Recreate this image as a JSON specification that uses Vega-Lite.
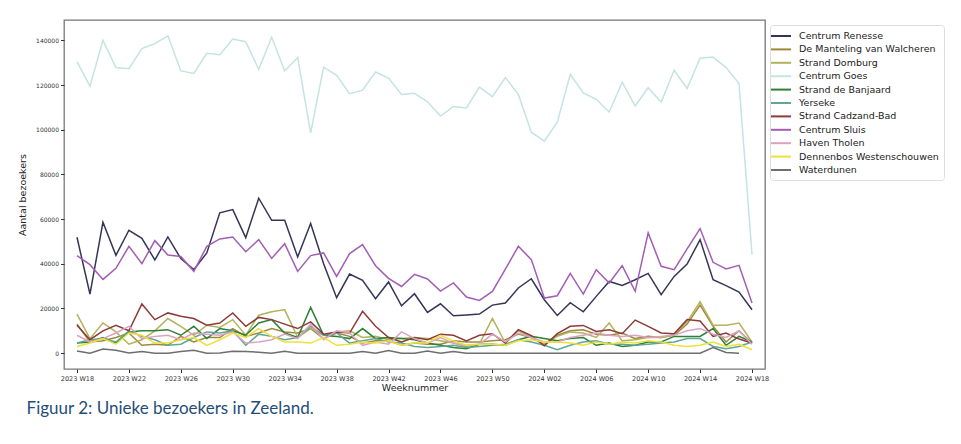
{
"$schema":"https://vega.github.io/schema/vega-lite/v6.json",
"width":701,"height":349,
"autosize":{"type":"none"},
"padding":{"left":64,"top":20,"right":196,"bottom":75},
"config":{"view":{"stroke":"#777","strokeWidth":1.3},"font":"DejaVu Sans"},
"title":{"text":"Figuur 2: Unieke bezoekers in Zeeland.","orient":"bottom","anchor":"start","font":"Lato","fontSize":17,"fontWeight":"normal","color":"#1f4e79","offset":9,"dx":9},
"data":{"values":[
{"w":"2023 W18","loc":"Centrum Renesse","n":51850},{"w":"2023 W19","loc":"Centrum Renesse","n":26450},{"w":"2023 W20","loc":"Centrum Renesse","n":58550},{"w":"2023 W21","loc":"Centrum Renesse","n":43750},{"w":"2023 W22","loc":"Centrum Renesse","n":55000},{"w":"2023 W23","loc":"Centrum Renesse","n":51400},{"w":"2023 W24","loc":"Centrum Renesse","n":41700},{"w":"2023 W25","loc":"Centrum Renesse","n":52000},{"w":"2023 W26","loc":"Centrum Renesse","n":42300},{"w":"2023 W27","loc":"Centrum Renesse","n":37350},{"w":"2023 W28","loc":"Centrum Renesse","n":44850},{"w":"2023 W29","loc":"Centrum Renesse","n":62800},{"w":"2023 W30","loc":"Centrum Renesse","n":64250},{"w":"2023 W31","loc":"Centrum Renesse","n":51700},{"w":"2023 W32","loc":"Centrum Renesse","n":69350},{"w":"2023 W33","loc":"Centrum Renesse","n":59450},{"w":"2023 W34","loc":"Centrum Renesse","n":59450},{"w":"2023 W35","loc":"Centrum Renesse","n":43050},{"w":"2023 W36","loc":"Centrum Renesse","n":58000},{"w":"2023 W37","loc":"Centrum Renesse","n":40000},{"w":"2023 W38","loc":"Centrum Renesse","n":24800},{"w":"2023 W39","loc":"Centrum Renesse","n":35400},{"w":"2023 W40","loc":"Centrum Renesse","n":32550},{"w":"2023 W41","loc":"Centrum Renesse","n":24350},{"w":"2023 W42","loc":"Centrum Renesse","n":31850},{"w":"2023 W43","loc":"Centrum Renesse","n":21200},{"w":"2023 W44","loc":"Centrum Renesse","n":26600},{"w":"2023 W45","loc":"Centrum Renesse","n":18200},{"w":"2023 W46","loc":"Centrum Renesse","n":22100},{"w":"2023 W47","loc":"Centrum Renesse","n":16700},{"w":"2023 W48","loc":"Centrum Renesse","n":17050},{"w":"2023 W49","loc":"Centrum Renesse","n":17500},{"w":"2023 W50","loc":"Centrum Renesse","n":21500},{"w":"2023 W51","loc":"Centrum Renesse","n":22400},{"w":"2023 W52","loc":"Centrum Renesse","n":29150},{"w":"2024 W01","loc":"Centrum Renesse","n":33300},{"w":"2024 W02","loc":"Centrum Renesse","n":23900},{"w":"2024 W03","loc":"Centrum Renesse","n":16850},{"w":"2024 W04","loc":"Centrum Renesse","n":22550},{"w":"2024 W05","loc":"Centrum Renesse","n":18500},{"w":"2024 W06","loc":"Centrum Renesse","n":25400},{"w":"2024 W07","loc":"Centrum Renesse","n":32100},{"w":"2024 W08","loc":"Centrum Renesse","n":30300},{"w":"2024 W09","loc":"Centrum Renesse","n":32850},{"w":"2024 W10","loc":"Centrum Renesse","n":35700},{"w":"2024 W11","loc":"Centrum Renesse","n":26150},{"w":"2024 W12","loc":"Centrum Renesse","n":34350},{"w":"2024 W13","loc":"Centrum Renesse","n":39900},{"w":"2024 W14","loc":"Centrum Renesse","n":50800},{"w":"2024 W15","loc":"Centrum Renesse","n":32850},{"w":"2024 W16","loc":"Centrum Renesse","n":30200},{"w":"2024 W17","loc":"Centrum Renesse","n":27350},{"w":"2024 W18","loc":"Centrum Renesse","n":19400},
{"w":"2023 W18","loc":"De Manteling van Walcheren","n":13000},{"w":"2023 W19","loc":"De Manteling van Walcheren","n":5000},{"w":"2023 W20","loc":"De Manteling van Walcheren","n":5500},{"w":"2023 W21","loc":"De Manteling van Walcheren","n":7000},{"w":"2023 W22","loc":"De Manteling van Walcheren","n":9000},{"w":"2023 W23","loc":"De Manteling van Walcheren","n":3500},{"w":"2023 W24","loc":"De Manteling van Walcheren","n":4000},{"w":"2023 W25","loc":"De Manteling van Walcheren","n":3500},{"w":"2023 W26","loc":"De Manteling van Walcheren","n":7500},{"w":"2023 W27","loc":"De Manteling van Walcheren","n":5000},{"w":"2023 W28","loc":"De Manteling van Walcheren","n":7000},{"w":"2023 W29","loc":"De Manteling van Walcheren","n":7000},{"w":"2023 W30","loc":"De Manteling van Walcheren","n":11000},{"w":"2023 W31","loc":"De Manteling van Walcheren","n":7500},{"w":"2023 W32","loc":"De Manteling van Walcheren","n":9000},{"w":"2023 W33","loc":"De Manteling van Walcheren","n":11000},{"w":"2023 W34","loc":"De Manteling van Walcheren","n":9500},{"w":"2023 W35","loc":"De Manteling van Walcheren","n":9000},{"w":"2023 W36","loc":"De Manteling van Walcheren","n":11000},{"w":"2023 W37","loc":"De Manteling van Walcheren","n":6500},{"w":"2023 W38","loc":"De Manteling van Walcheren","n":9000},{"w":"2023 W39","loc":"De Manteling van Walcheren","n":7500},{"w":"2023 W40","loc":"De Manteling van Walcheren","n":4500},{"w":"2023 W41","loc":"De Manteling van Walcheren","n":5500},{"w":"2023 W42","loc":"De Manteling van Walcheren","n":5500},{"w":"2023 W43","loc":"De Manteling van Walcheren","n":3500},{"w":"2023 W44","loc":"De Manteling van Walcheren","n":4500},{"w":"2023 W45","loc":"De Manteling van Walcheren","n":4000},{"w":"2023 W46","loc":"De Manteling van Walcheren","n":4000},{"w":"2023 W47","loc":"De Manteling van Walcheren","n":5500},{"w":"2023 W48","loc":"De Manteling van Walcheren","n":5000},{"w":"2023 W49","loc":"De Manteling van Walcheren","n":5000},{"w":"2023 W50","loc":"De Manteling van Walcheren","n":5500},{"w":"2023 W51","loc":"De Manteling van Walcheren","n":6000},{"w":"2023 W52","loc":"De Manteling van Walcheren","n":8500},{"w":"2024 W01","loc":"De Manteling van Walcheren","n":7000},{"w":"2024 W02","loc":"De Manteling van Walcheren","n":4000},{"w":"2024 W03","loc":"De Manteling van Walcheren","n":8000},{"w":"2024 W04","loc":"De Manteling van Walcheren","n":10000},{"w":"2024 W05","loc":"De Manteling van Walcheren","n":10500},{"w":"2024 W06","loc":"De Manteling van Walcheren","n":8500},{"w":"2024 W07","loc":"De Manteling van Walcheren","n":8000},{"w":"2024 W08","loc":"De Manteling van Walcheren","n":9000},{"w":"2024 W09","loc":"De Manteling van Walcheren","n":6500},{"w":"2024 W10","loc":"De Manteling van Walcheren","n":7500},{"w":"2024 W11","loc":"De Manteling van Walcheren","n":7000},{"w":"2024 W12","loc":"De Manteling van Walcheren","n":8000},{"w":"2024 W13","loc":"De Manteling van Walcheren","n":13000},{"w":"2024 W14","loc":"De Manteling van Walcheren","n":21500},{"w":"2024 W15","loc":"De Manteling van Walcheren","n":12000},{"w":"2024 W16","loc":"De Manteling van Walcheren","n":5000},{"w":"2024 W17","loc":"De Manteling van Walcheren","n":10000},{"w":"2024 W18","loc":"De Manteling van Walcheren","n":4500},
{"w":"2023 W18","loc":"Strand Domburg","n":17500},{"w":"2023 W19","loc":"Strand Domburg","n":6500},{"w":"2023 W20","loc":"Strand Domburg","n":13500},{"w":"2023 W21","loc":"Strand Domburg","n":9500},{"w":"2023 W22","loc":"Strand Domburg","n":4000},{"w":"2023 W23","loc":"Strand Domburg","n":6000},{"w":"2023 W24","loc":"Strand Domburg","n":10000},{"w":"2023 W25","loc":"Strand Domburg","n":15500},{"w":"2023 W26","loc":"Strand Domburg","n":12000},{"w":"2023 W27","loc":"Strand Domburg","n":8000},{"w":"2023 W28","loc":"Strand Domburg","n":12500},{"w":"2023 W29","loc":"Strand Domburg","n":11500},{"w":"2023 W30","loc":"Strand Domburg","n":15000},{"w":"2023 W31","loc":"Strand Domburg","n":8000},{"w":"2023 W32","loc":"Strand Domburg","n":17000},{"w":"2023 W33","loc":"Strand Domburg","n":18500},{"w":"2023 W34","loc":"Strand Domburg","n":19500},{"w":"2023 W35","loc":"Strand Domburg","n":7000},{"w":"2023 W36","loc":"Strand Domburg","n":11000},{"w":"2023 W37","loc":"Strand Domburg","n":8000},{"w":"2023 W38","loc":"Strand Domburg","n":9500},{"w":"2023 W39","loc":"Strand Domburg","n":10000},{"w":"2023 W40","loc":"Strand Domburg","n":7000},{"w":"2023 W41","loc":"Strand Domburg","n":7500},{"w":"2023 W42","loc":"Strand Domburg","n":6000},{"w":"2023 W43","loc":"Strand Domburg","n":6500},{"w":"2023 W44","loc":"Strand Domburg","n":7000},{"w":"2023 W45","loc":"Strand Domburg","n":6500},{"w":"2023 W46","loc":"Strand Domburg","n":5500},{"w":"2023 W47","loc":"Strand Domburg","n":4500},{"w":"2023 W48","loc":"Strand Domburg","n":3000},{"w":"2023 W49","loc":"Strand Domburg","n":4000},{"w":"2023 W50","loc":"Strand Domburg","n":15500},{"w":"2023 W51","loc":"Strand Domburg","n":4500},{"w":"2023 W52","loc":"Strand Domburg","n":10000},{"w":"2024 W01","loc":"Strand Domburg","n":7000},{"w":"2024 W02","loc":"Strand Domburg","n":4000},{"w":"2024 W03","loc":"Strand Domburg","n":7500},{"w":"2024 W04","loc":"Strand Domburg","n":9500},{"w":"2024 W05","loc":"Strand Domburg","n":9000},{"w":"2024 W06","loc":"Strand Domburg","n":7000},{"w":"2024 W07","loc":"Strand Domburg","n":13500},{"w":"2024 W08","loc":"Strand Domburg","n":5500},{"w":"2024 W09","loc":"Strand Domburg","n":6000},{"w":"2024 W10","loc":"Strand Domburg","n":7000},{"w":"2024 W11","loc":"Strand Domburg","n":7000},{"w":"2024 W12","loc":"Strand Domburg","n":8500},{"w":"2024 W13","loc":"Strand Domburg","n":14000},{"w":"2024 W14","loc":"Strand Domburg","n":23000},{"w":"2024 W15","loc":"Strand Domburg","n":12500},{"w":"2024 W16","loc":"Strand Domburg","n":12500},{"w":"2024 W17","loc":"Strand Domburg","n":13500},{"w":"2024 W18","loc":"Strand Domburg","n":5000},
{"w":"2023 W18","loc":"Centrum Goes","n":130500},{"w":"2023 W19","loc":"Centrum Goes","n":119500},{"w":"2023 W20","loc":"Centrum Goes","n":140000},{"w":"2023 W21","loc":"Centrum Goes","n":127800},{"w":"2023 W22","loc":"Centrum Goes","n":127300},{"w":"2023 W23","loc":"Centrum Goes","n":136300},{"w":"2023 W24","loc":"Centrum Goes","n":138500},{"w":"2023 W25","loc":"Centrum Goes","n":142000},{"w":"2023 W26","loc":"Centrum Goes","n":126300},{"w":"2023 W27","loc":"Centrum Goes","n":125200},{"w":"2023 W28","loc":"Centrum Goes","n":134200},{"w":"2023 W29","loc":"Centrum Goes","n":133600},{"w":"2023 W30","loc":"Centrum Goes","n":140600},{"w":"2023 W31","loc":"Centrum Goes","n":139400},{"w":"2023 W32","loc":"Centrum Goes","n":127000},{"w":"2023 W33","loc":"Centrum Goes","n":141400},{"w":"2023 W34","loc":"Centrum Goes","n":126300},{"w":"2023 W35","loc":"Centrum Goes","n":132300},{"w":"2023 W36","loc":"Centrum Goes","n":98600},{"w":"2023 W37","loc":"Centrum Goes","n":128000},{"w":"2023 W38","loc":"Centrum Goes","n":124300},{"w":"2023 W39","loc":"Centrum Goes","n":116100},{"w":"2023 W40","loc":"Centrum Goes","n":117700},{"w":"2023 W41","loc":"Centrum Goes","n":125800},{"w":"2023 W42","loc":"Centrum Goes","n":123100},{"w":"2023 W43","loc":"Centrum Goes","n":115800},{"w":"2023 W44","loc":"Centrum Goes","n":116300},{"w":"2023 W45","loc":"Centrum Goes","n":112500},{"w":"2023 W46","loc":"Centrum Goes","n":106100},{"w":"2023 W47","loc":"Centrum Goes","n":110400},{"w":"2023 W48","loc":"Centrum Goes","n":109700},{"w":"2023 W49","loc":"Centrum Goes","n":119100},{"w":"2023 W50","loc":"Centrum Goes","n":114800},{"w":"2023 W51","loc":"Centrum Goes","n":123300},{"w":"2023 W52","loc":"Centrum Goes","n":115800},{"w":"2024 W01","loc":"Centrum Goes","n":98900},{"w":"2024 W02","loc":"Centrum Goes","n":94900},{"w":"2024 W03","loc":"Centrum Goes","n":103400},{"w":"2024 W04","loc":"Centrum Goes","n":124800},{"w":"2024 W05","loc":"Centrum Goes","n":116500},{"w":"2024 W06","loc":"Centrum Goes","n":113600},{"w":"2024 W07","loc":"Centrum Goes","n":107900},{"w":"2024 W08","loc":"Centrum Goes","n":121300},{"w":"2024 W09","loc":"Centrum Goes","n":110600},{"w":"2024 W10","loc":"Centrum Goes","n":118800},{"w":"2024 W11","loc":"Centrum Goes","n":112400},{"w":"2024 W12","loc":"Centrum Goes","n":126600},{"w":"2024 W13","loc":"Centrum Goes","n":118500},{"w":"2024 W14","loc":"Centrum Goes","n":132000},{"w":"2024 W15","loc":"Centrum Goes","n":132500},{"w":"2024 W16","loc":"Centrum Goes","n":127800},{"w":"2024 W17","loc":"Centrum Goes","n":120700},{"w":"2024 W18","loc":"Centrum Goes","n":44100},
{"w":"2023 W18","loc":"Strand de Banjaard","n":4500},{"w":"2023 W19","loc":"Strand de Banjaard","n":5000},{"w":"2023 W20","loc":"Strand de Banjaard","n":7000},{"w":"2023 W21","loc":"Strand de Banjaard","n":4500},{"w":"2023 W22","loc":"Strand de Banjaard","n":9500},{"w":"2023 W23","loc":"Strand de Banjaard","n":10000},{"w":"2023 W24","loc":"Strand de Banjaard","n":10000},{"w":"2023 W25","loc":"Strand de Banjaard","n":10500},{"w":"2023 W26","loc":"Strand de Banjaard","n":8000},{"w":"2023 W27","loc":"Strand de Banjaard","n":12000},{"w":"2023 W28","loc":"Strand de Banjaard","n":6500},{"w":"2023 W29","loc":"Strand de Banjaard","n":11000},{"w":"2023 W30","loc":"Strand de Banjaard","n":10000},{"w":"2023 W31","loc":"Strand de Banjaard","n":8000},{"w":"2023 W32","loc":"Strand de Banjaard","n":13500},{"w":"2023 W33","loc":"Strand de Banjaard","n":15000},{"w":"2023 W34","loc":"Strand de Banjaard","n":9000},{"w":"2023 W35","loc":"Strand de Banjaard","n":7000},{"w":"2023 W36","loc":"Strand de Banjaard","n":20500},{"w":"2023 W37","loc":"Strand de Banjaard","n":8000},{"w":"2023 W38","loc":"Strand de Banjaard","n":7500},{"w":"2023 W39","loc":"Strand de Banjaard","n":6500},{"w":"2023 W40","loc":"Strand de Banjaard","n":11000},{"w":"2023 W41","loc":"Strand de Banjaard","n":6500},{"w":"2023 W42","loc":"Strand de Banjaard","n":7000},{"w":"2023 W43","loc":"Strand de Banjaard","n":6500},{"w":"2023 W44","loc":"Strand de Banjaard","n":6000},{"w":"2023 W45","loc":"Strand de Banjaard","n":4500},{"w":"2023 W46","loc":"Strand de Banjaard","n":3500},{"w":"2023 W47","loc":"Strand de Banjaard","n":2500},{"w":"2023 W48","loc":"Strand de Banjaard","n":2000},{"w":"2023 W49","loc":"Strand de Banjaard","n":4000},{"w":"2023 W50","loc":"Strand de Banjaard","n":4000},{"w":"2023 W51","loc":"Strand de Banjaard","n":3500},{"w":"2023 W52","loc":"Strand de Banjaard","n":6000},{"w":"2024 W01","loc":"Strand de Banjaard","n":7500},{"w":"2024 W02","loc":"Strand de Banjaard","n":6500},{"w":"2024 W03","loc":"Strand de Banjaard","n":5500},{"w":"2024 W04","loc":"Strand de Banjaard","n":6500},{"w":"2024 W05","loc":"Strand de Banjaard","n":7000},{"w":"2024 W06","loc":"Strand de Banjaard","n":3500},{"w":"2024 W07","loc":"Strand de Banjaard","n":4500},{"w":"2024 W08","loc":"Strand de Banjaard","n":3000},{"w":"2024 W09","loc":"Strand de Banjaard","n":3500},{"w":"2024 W10","loc":"Strand de Banjaard","n":5000},{"w":"2024 W11","loc":"Strand de Banjaard","n":5000},{"w":"2024 W12","loc":"Strand de Banjaard","n":7500},{"w":"2024 W13","loc":"Strand de Banjaard","n":7500},{"w":"2024 W14","loc":"Strand de Banjaard","n":7500},{"w":"2024 W15","loc":"Strand de Banjaard","n":11000},{"w":"2024 W16","loc":"Strand de Banjaard","n":3500},{"w":"2024 W17","loc":"Strand de Banjaard","n":7500},{"w":"2024 W18","loc":"Strand de Banjaard","n":5000},
{"w":"2023 W18","loc":"Yerseke","n":4500},{"w":"2023 W19","loc":"Yerseke","n":6000},{"w":"2023 W20","loc":"Yerseke","n":6500},{"w":"2023 W21","loc":"Yerseke","n":5000},{"w":"2023 W22","loc":"Yerseke","n":10000},{"w":"2023 W23","loc":"Yerseke","n":7500},{"w":"2023 W24","loc":"Yerseke","n":6000},{"w":"2023 W25","loc":"Yerseke","n":3500},{"w":"2023 W26","loc":"Yerseke","n":4000},{"w":"2023 W27","loc":"Yerseke","n":7000},{"w":"2023 W28","loc":"Yerseke","n":9500},{"w":"2023 W29","loc":"Yerseke","n":9000},{"w":"2023 W30","loc":"Yerseke","n":10000},{"w":"2023 W31","loc":"Yerseke","n":3500},{"w":"2023 W32","loc":"Yerseke","n":8500},{"w":"2023 W33","loc":"Yerseke","n":7500},{"w":"2023 W34","loc":"Yerseke","n":6000},{"w":"2023 W35","loc":"Yerseke","n":7000},{"w":"2023 W36","loc":"Yerseke","n":12000},{"w":"2023 W37","loc":"Yerseke","n":8000},{"w":"2023 W38","loc":"Yerseke","n":9000},{"w":"2023 W39","loc":"Yerseke","n":4500},{"w":"2023 W40","loc":"Yerseke","n":5500},{"w":"2023 W41","loc":"Yerseke","n":6500},{"w":"2023 W42","loc":"Yerseke","n":5000},{"w":"2023 W43","loc":"Yerseke","n":4500},{"w":"2023 W44","loc":"Yerseke","n":3000},{"w":"2023 W45","loc":"Yerseke","n":2500},{"w":"2023 W46","loc":"Yerseke","n":3000},{"w":"2023 W47","loc":"Yerseke","n":3500},{"w":"2023 W48","loc":"Yerseke","n":2500},{"w":"2023 W49","loc":"Yerseke","n":3000},{"w":"2023 W50","loc":"Yerseke","n":3500},{"w":"2023 W51","loc":"Yerseke","n":4000},{"w":"2023 W52","loc":"Yerseke","n":6000},{"w":"2024 W01","loc":"Yerseke","n":5000},{"w":"2024 W02","loc":"Yerseke","n":3500},{"w":"2024 W03","loc":"Yerseke","n":1500},{"w":"2024 W04","loc":"Yerseke","n":3500},{"w":"2024 W05","loc":"Yerseke","n":5000},{"w":"2024 W06","loc":"Yerseke","n":5500},{"w":"2024 W07","loc":"Yerseke","n":4000},{"w":"2024 W08","loc":"Yerseke","n":4000},{"w":"2024 W09","loc":"Yerseke","n":3500},{"w":"2024 W10","loc":"Yerseke","n":4000},{"w":"2024 W11","loc":"Yerseke","n":4500},{"w":"2024 W12","loc":"Yerseke","n":5000},{"w":"2024 W13","loc":"Yerseke","n":6500},{"w":"2024 W14","loc":"Yerseke","n":6500},{"w":"2024 W15","loc":"Yerseke","n":3000},{"w":"2024 W16","loc":"Yerseke","n":2000},{"w":"2024 W17","loc":"Yerseke","n":3000},{"w":"2024 W18","loc":"Yerseke","n":5000},
{"w":"2023 W18","loc":"Strand Cadzand-Bad","n":12500},{"w":"2023 W19","loc":"Strand Cadzand-Bad","n":6000},{"w":"2023 W20","loc":"Strand Cadzand-Bad","n":10000},{"w":"2023 W21","loc":"Strand Cadzand-Bad","n":12500},{"w":"2023 W22","loc":"Strand Cadzand-Bad","n":10000},{"w":"2023 W23","loc":"Strand Cadzand-Bad","n":22000},{"w":"2023 W24","loc":"Strand Cadzand-Bad","n":15000},{"w":"2023 W25","loc":"Strand Cadzand-Bad","n":18000},{"w":"2023 W26","loc":"Strand Cadzand-Bad","n":16500},{"w":"2023 W27","loc":"Strand Cadzand-Bad","n":15500},{"w":"2023 W28","loc":"Strand Cadzand-Bad","n":12500},{"w":"2023 W29","loc":"Strand Cadzand-Bad","n":13500},{"w":"2023 W30","loc":"Strand Cadzand-Bad","n":18000},{"w":"2023 W31","loc":"Strand Cadzand-Bad","n":12000},{"w":"2023 W32","loc":"Strand Cadzand-Bad","n":16000},{"w":"2023 W33","loc":"Strand Cadzand-Bad","n":15000},{"w":"2023 W34","loc":"Strand Cadzand-Bad","n":13000},{"w":"2023 W35","loc":"Strand Cadzand-Bad","n":11000},{"w":"2023 W36","loc":"Strand Cadzand-Bad","n":14000},{"w":"2023 W37","loc":"Strand Cadzand-Bad","n":8500},{"w":"2023 W38","loc":"Strand Cadzand-Bad","n":9500},{"w":"2023 W39","loc":"Strand Cadzand-Bad","n":9000},{"w":"2023 W40","loc":"Strand Cadzand-Bad","n":18700},{"w":"2023 W41","loc":"Strand Cadzand-Bad","n":12000},{"w":"2023 W42","loc":"Strand Cadzand-Bad","n":7000},{"w":"2023 W43","loc":"Strand Cadzand-Bad","n":5000},{"w":"2023 W44","loc":"Strand Cadzand-Bad","n":7000},{"w":"2023 W45","loc":"Strand Cadzand-Bad","n":6000},{"w":"2023 W46","loc":"Strand Cadzand-Bad","n":8500},{"w":"2023 W47","loc":"Strand Cadzand-Bad","n":8000},{"w":"2023 W48","loc":"Strand Cadzand-Bad","n":5500},{"w":"2023 W49","loc":"Strand Cadzand-Bad","n":8000},{"w":"2023 W50","loc":"Strand Cadzand-Bad","n":8700},{"w":"2023 W51","loc":"Strand Cadzand-Bad","n":4500},{"w":"2023 W52","loc":"Strand Cadzand-Bad","n":10500},{"w":"2024 W01","loc":"Strand Cadzand-Bad","n":7800},{"w":"2024 W02","loc":"Strand Cadzand-Bad","n":3300},{"w":"2024 W03","loc":"Strand Cadzand-Bad","n":8700},{"w":"2024 W04","loc":"Strand Cadzand-Bad","n":12000},{"w":"2024 W05","loc":"Strand Cadzand-Bad","n":12400},{"w":"2024 W06","loc":"Strand Cadzand-Bad","n":9700},{"w":"2024 W07","loc":"Strand Cadzand-Bad","n":10500},{"w":"2024 W08","loc":"Strand Cadzand-Bad","n":8700},{"w":"2024 W09","loc":"Strand Cadzand-Bad","n":14800},{"w":"2024 W10","loc":"Strand Cadzand-Bad","n":12000},{"w":"2024 W11","loc":"Strand Cadzand-Bad","n":9000},{"w":"2024 W12","loc":"Strand Cadzand-Bad","n":8700},{"w":"2024 W13","loc":"Strand Cadzand-Bad","n":15000},{"w":"2024 W14","loc":"Strand Cadzand-Bad","n":14400},{"w":"2024 W15","loc":"Strand Cadzand-Bad","n":7500},{"w":"2024 W16","loc":"Strand Cadzand-Bad","n":9000},{"w":"2024 W17","loc":"Strand Cadzand-Bad","n":6300},{"w":"2024 W18","loc":"Strand Cadzand-Bad","n":4500},
{"w":"2023 W18","loc":"Centrum Sluis","n":43650},{"w":"2023 W19","loc":"Centrum Sluis","n":39600},{"w":"2023 W20","loc":"Centrum Sluis","n":33000},{"w":"2023 W21","loc":"Centrum Sluis","n":37950},{"w":"2023 W22","loc":"Centrum Sluis","n":47800},{"w":"2023 W23","loc":"Centrum Sluis","n":40050},{"w":"2023 W24","loc":"Centrum Sluis","n":50350},{"w":"2023 W25","loc":"Centrum Sluis","n":43950},{"w":"2023 W26","loc":"Centrum Sluis","n":43300},{"w":"2023 W27","loc":"Centrum Sluis","n":36600},{"w":"2023 W28","loc":"Centrum Sluis","n":47800},{"w":"2023 W29","loc":"Centrum Sluis","n":51100},{"w":"2023 W30","loc":"Centrum Sluis","n":52000},{"w":"2023 W31","loc":"Centrum Sluis","n":45400},{"w":"2023 W32","loc":"Centrum Sluis","n":50800},{"w":"2023 W33","loc":"Centrum Sluis","n":42400},{"w":"2023 W34","loc":"Centrum Sluis","n":49000},{"w":"2023 W35","loc":"Centrum Sluis","n":36600},{"w":"2023 W36","loc":"Centrum Sluis","n":43650},{"w":"2023 W37","loc":"Centrum Sluis","n":44850},{"w":"2023 W38","loc":"Centrum Sluis","n":34350},{"w":"2023 W39","loc":"Centrum Sluis","n":44550},{"w":"2023 W40","loc":"Centrum Sluis","n":48550},{"w":"2023 W41","loc":"Centrum Sluis","n":39150},{"w":"2023 W42","loc":"Centrum Sluis","n":33450},{"w":"2023 W43","loc":"Centrum Sluis","n":29850},{"w":"2023 W44","loc":"Centrum Sluis","n":35250},{"w":"2023 W45","loc":"Centrum Sluis","n":33200},{"w":"2023 W46","loc":"Centrum Sluis","n":27800},{"w":"2023 W47","loc":"Centrum Sluis","n":31400},{"w":"2023 W48","loc":"Centrum Sluis","n":25100},{"w":"2023 W49","loc":"Centrum Sluis","n":23600},{"w":"2023 W50","loc":"Centrum Sluis","n":27650},{"w":"2023 W51","loc":"Centrum Sluis","n":37650},{"w":"2023 W52","loc":"Centrum Sluis","n":47800},{"w":"2024 W01","loc":"Centrum Sluis","n":41850},{"w":"2024 W02","loc":"Centrum Sluis","n":24650},{"w":"2024 W03","loc":"Centrum Sluis","n":25700},{"w":"2024 W04","loc":"Centrum Sluis","n":35700},{"w":"2024 W05","loc":"Centrum Sluis","n":26450},{"w":"2024 W06","loc":"Centrum Sluis","n":37350},{"w":"2024 W07","loc":"Centrum Sluis","n":31400},{"w":"2024 W08","loc":"Centrum Sluis","n":39150},{"w":"2024 W09","loc":"Centrum Sluis","n":27650},{"w":"2024 W10","loc":"Centrum Sluis","n":53800},{"w":"2024 W11","loc":"Centrum Sluis","n":38850},{"w":"2024 W12","loc":"Centrum Sluis","n":37350},{"w":"2024 W13","loc":"Centrum Sluis","n":46650},{"w":"2024 W14","loc":"Centrum Sluis","n":55750},{"w":"2024 W15","loc":"Centrum Sluis","n":40650},{"w":"2024 W16","loc":"Centrum Sluis","n":37650},{"w":"2024 W17","loc":"Centrum Sluis","n":39300},{"w":"2024 W18","loc":"Centrum Sluis","n":22400},
{"w":"2023 W18","loc":"Haven Tholen","n":8000},{"w":"2023 W19","loc":"Haven Tholen","n":5000},{"w":"2023 W20","loc":"Haven Tholen","n":6500},{"w":"2023 W21","loc":"Haven Tholen","n":9000},{"w":"2023 W22","loc":"Haven Tholen","n":12000},{"w":"2023 W23","loc":"Haven Tholen","n":6500},{"w":"2023 W24","loc":"Haven Tholen","n":7500},{"w":"2023 W25","loc":"Haven Tholen","n":8000},{"w":"2023 W26","loc":"Haven Tholen","n":6000},{"w":"2023 W27","loc":"Haven Tholen","n":9000},{"w":"2023 W28","loc":"Haven Tholen","n":8500},{"w":"2023 W29","loc":"Haven Tholen","n":8000},{"w":"2023 W30","loc":"Haven Tholen","n":9500},{"w":"2023 W31","loc":"Haven Tholen","n":4500},{"w":"2023 W32","loc":"Haven Tholen","n":5000},{"w":"2023 W33","loc":"Haven Tholen","n":6000},{"w":"2023 W34","loc":"Haven Tholen","n":8500},{"w":"2023 W35","loc":"Haven Tholen","n":6500},{"w":"2023 W36","loc":"Haven Tholen","n":13000},{"w":"2023 W37","loc":"Haven Tholen","n":6000},{"w":"2023 W38","loc":"Haven Tholen","n":10000},{"w":"2023 W39","loc":"Haven Tholen","n":9000},{"w":"2023 W40","loc":"Haven Tholen","n":3500},{"w":"2023 W41","loc":"Haven Tholen","n":5000},{"w":"2023 W42","loc":"Haven Tholen","n":4000},{"w":"2023 W43","loc":"Haven Tholen","n":9500},{"w":"2023 W44","loc":"Haven Tholen","n":6500},{"w":"2023 W45","loc":"Haven Tholen","n":4500},{"w":"2023 W46","loc":"Haven Tholen","n":7000},{"w":"2023 W47","loc":"Haven Tholen","n":4500},{"w":"2023 W48","loc":"Haven Tholen","n":3500},{"w":"2023 W49","loc":"Haven Tholen","n":4000},{"w":"2023 W50","loc":"Haven Tholen","n":8500},{"w":"2023 W51","loc":"Haven Tholen","n":5000},{"w":"2023 W52","loc":"Haven Tholen","n":9000},{"w":"2024 W01","loc":"Haven Tholen","n":7000},{"w":"2024 W02","loc":"Haven Tholen","n":5000},{"w":"2024 W03","loc":"Haven Tholen","n":5000},{"w":"2024 W04","loc":"Haven Tholen","n":7000},{"w":"2024 W05","loc":"Haven Tholen","n":8000},{"w":"2024 W06","loc":"Haven Tholen","n":9000},{"w":"2024 W07","loc":"Haven Tholen","n":8000},{"w":"2024 W08","loc":"Haven Tholen","n":7500},{"w":"2024 W09","loc":"Haven Tholen","n":8000},{"w":"2024 W10","loc":"Haven Tholen","n":7000},{"w":"2024 W11","loc":"Haven Tholen","n":7500},{"w":"2024 W12","loc":"Haven Tholen","n":8000},{"w":"2024 W13","loc":"Haven Tholen","n":10000},{"w":"2024 W14","loc":"Haven Tholen","n":11000},{"w":"2024 W15","loc":"Haven Tholen","n":8500},{"w":"2024 W16","loc":"Haven Tholen","n":7000},{"w":"2024 W17","loc":"Haven Tholen","n":10000},{"w":"2024 W18","loc":"Haven Tholen","n":4000},
{"w":"2023 W18","loc":"Dennenbos Westenschouwen","n":3000},{"w":"2023 W19","loc":"Dennenbos Westenschouwen","n":4500},{"w":"2023 W20","loc":"Dennenbos Westenschouwen","n":6500},{"w":"2023 W21","loc":"Dennenbos Westenschouwen","n":4000},{"w":"2023 W22","loc":"Dennenbos Westenschouwen","n":9000},{"w":"2023 W23","loc":"Dennenbos Westenschouwen","n":8000},{"w":"2023 W24","loc":"Dennenbos Westenschouwen","n":4500},{"w":"2023 W25","loc":"Dennenbos Westenschouwen","n":4500},{"w":"2023 W26","loc":"Dennenbos Westenschouwen","n":6000},{"w":"2023 W27","loc":"Dennenbos Westenschouwen","n":7000},{"w":"2023 W28","loc":"Dennenbos Westenschouwen","n":3500},{"w":"2023 W29","loc":"Dennenbos Westenschouwen","n":6000},{"w":"2023 W30","loc":"Dennenbos Westenschouwen","n":9000},{"w":"2023 W31","loc":"Dennenbos Westenschouwen","n":7000},{"w":"2023 W32","loc":"Dennenbos Westenschouwen","n":11000},{"w":"2023 W33","loc":"Dennenbos Westenschouwen","n":7500},{"w":"2023 W34","loc":"Dennenbos Westenschouwen","n":5000},{"w":"2023 W35","loc":"Dennenbos Westenschouwen","n":5000},{"w":"2023 W36","loc":"Dennenbos Westenschouwen","n":4500},{"w":"2023 W37","loc":"Dennenbos Westenschouwen","n":7000},{"w":"2023 W38","loc":"Dennenbos Westenschouwen","n":3500},{"w":"2023 W39","loc":"Dennenbos Westenschouwen","n":4000},{"w":"2023 W40","loc":"Dennenbos Westenschouwen","n":5000},{"w":"2023 W41","loc":"Dennenbos Westenschouwen","n":4500},{"w":"2023 W42","loc":"Dennenbos Westenschouwen","n":5500},{"w":"2023 W43","loc":"Dennenbos Westenschouwen","n":3500},{"w":"2023 W44","loc":"Dennenbos Westenschouwen","n":4500},{"w":"2023 W45","loc":"Dennenbos Westenschouwen","n":4500},{"w":"2023 W46","loc":"Dennenbos Westenschouwen","n":8000},{"w":"2023 W47","loc":"Dennenbos Westenschouwen","n":5500},{"w":"2023 W48","loc":"Dennenbos Westenschouwen","n":3500},{"w":"2023 W49","loc":"Dennenbos Westenschouwen","n":4000},{"w":"2023 W50","loc":"Dennenbos Westenschouwen","n":4000},{"w":"2023 W51","loc":"Dennenbos Westenschouwen","n":3500},{"w":"2023 W52","loc":"Dennenbos Westenschouwen","n":5500},{"w":"2024 W01","loc":"Dennenbos Westenschouwen","n":6000},{"w":"2024 W02","loc":"Dennenbos Westenschouwen","n":5000},{"w":"2024 W03","loc":"Dennenbos Westenschouwen","n":5000},{"w":"2024 W04","loc":"Dennenbos Westenschouwen","n":4500},{"w":"2024 W05","loc":"Dennenbos Westenschouwen","n":3500},{"w":"2024 W06","loc":"Dennenbos Westenschouwen","n":5000},{"w":"2024 W07","loc":"Dennenbos Westenschouwen","n":4000},{"w":"2024 W08","loc":"Dennenbos Westenschouwen","n":5000},{"w":"2024 W09","loc":"Dennenbos Westenschouwen","n":4500},{"w":"2024 W10","loc":"Dennenbos Westenschouwen","n":5500},{"w":"2024 W11","loc":"Dennenbos Westenschouwen","n":5000},{"w":"2024 W12","loc":"Dennenbos Westenschouwen","n":3500},{"w":"2024 W13","loc":"Dennenbos Westenschouwen","n":3000},{"w":"2024 W14","loc":"Dennenbos Westenschouwen","n":3500},{"w":"2024 W15","loc":"Dennenbos Westenschouwen","n":5000},{"w":"2024 W16","loc":"Dennenbos Westenschouwen","n":3000},{"w":"2024 W17","loc":"Dennenbos Westenschouwen","n":4000},{"w":"2024 W18","loc":"Dennenbos Westenschouwen","n":1500},
{"w":"2023 W18","loc":"Waterdunen","n":1000},{"w":"2023 W19","loc":"Waterdunen","n":0},{"w":"2023 W20","loc":"Waterdunen","n":1800},{"w":"2023 W21","loc":"Waterdunen","n":1300},{"w":"2023 W22","loc":"Waterdunen","n":100},{"w":"2023 W23","loc":"Waterdunen","n":700},{"w":"2023 W24","loc":"Waterdunen","n":0},{"w":"2023 W25","loc":"Waterdunen","n":0},{"w":"2023 W26","loc":"Waterdunen","n":700},{"w":"2023 W27","loc":"Waterdunen","n":1300},{"w":"2023 W28","loc":"Waterdunen","n":0},{"w":"2023 W29","loc":"Waterdunen","n":100},{"w":"2023 W30","loc":"Waterdunen","n":800},{"w":"2023 W31","loc":"Waterdunen","n":700},{"w":"2023 W32","loc":"Waterdunen","n":400},{"w":"2023 W33","loc":"Waterdunen","n":0},{"w":"2023 W34","loc":"Waterdunen","n":800},{"w":"2023 W35","loc":"Waterdunen","n":0},{"w":"2023 W36","loc":"Waterdunen","n":0},{"w":"2023 W37","loc":"Waterdunen","n":0},{"w":"2023 W38","loc":"Waterdunen","n":0},{"w":"2023 W39","loc":"Waterdunen","n":0},{"w":"2023 W40","loc":"Waterdunen","n":700},{"w":"2023 W41","loc":"Waterdunen","n":0},{"w":"2023 W42","loc":"Waterdunen","n":1200},{"w":"2023 W43","loc":"Waterdunen","n":0},{"w":"2023 W44","loc":"Waterdunen","n":0},{"w":"2023 W45","loc":"Waterdunen","n":900},{"w":"2023 W46","loc":"Waterdunen","n":0},{"w":"2023 W47","loc":"Waterdunen","n":700},{"w":"2023 W48","loc":"Waterdunen","n":0},{"w":"2023 W49","loc":"Waterdunen","n":0},{"w":"2023 W50","loc":"Waterdunen","n":0},{"w":"2023 W51","loc":"Waterdunen","n":0},{"w":"2023 W52","loc":"Waterdunen","n":0},{"w":"2024 W01","loc":"Waterdunen","n":0},{"w":"2024 W02","loc":"Waterdunen","n":0},{"w":"2024 W03","loc":"Waterdunen","n":0},{"w":"2024 W04","loc":"Waterdunen","n":0},{"w":"2024 W05","loc":"Waterdunen","n":0},{"w":"2024 W06","loc":"Waterdunen","n":0},{"w":"2024 W07","loc":"Waterdunen","n":0},{"w":"2024 W08","loc":"Waterdunen","n":0},{"w":"2024 W09","loc":"Waterdunen","n":0},{"w":"2024 W10","loc":"Waterdunen","n":0},{"w":"2024 W11","loc":"Waterdunen","n":0},{"w":"2024 W12","loc":"Waterdunen","n":0},{"w":"2024 W13","loc":"Waterdunen","n":0},{"w":"2024 W14","loc":"Waterdunen","n":0},{"w":"2024 W15","loc":"Waterdunen","n":2500},{"w":"2024 W16","loc":"Waterdunen","n":300},{"w":"2024 W17","loc":"Waterdunen","n":0}
]},
"mark":{"type":"line","strokeWidth":1.5},
"encoding":{
"x":{"field":"w","type":"ordinal","sort":null,
"scale":{"type":"point","padding":2.6,"domain":["2023 W18","2023 W19","2023 W20","2023 W21","2023 W22","2023 W23","2023 W24","2023 W25","2023 W26","2023 W27","2023 W28","2023 W29","2023 W30","2023 W31","2023 W32","2023 W33","2023 W34","2023 W35","2023 W36","2023 W37","2023 W38","2023 W39","2023 W40","2023 W41","2023 W42","2023 W43","2023 W44","2023 W45","2023 W46","2023 W47","2023 W48","2023 W49","2023 W50","2023 W51","2023 W52","2024 W01","2024 W02","2024 W03","2024 W04","2024 W05","2024 W06","2024 W07","2024 W08","2024 W09","2024 W10","2024 W11","2024 W12","2024 W13","2024 W14","2024 W15","2024 W16","2024 W17","2024 W18"]},
"axis":{"title":"Weeknummer","values":["2023 W18","2023 W22","2023 W26","2023 W30","2023 W34","2023 W38","2023 W42","2023 W46","2023 W50","2024 W02","2024 W06","2024 W10","2024 W14","2024 W18"],"labelAngle":0,"labelFontSize":6.5,"labelColor":"#333","tickColor":"#333","tickSize":3.5,"labelPadding":3,"domain":false,"grid":false,"titleFontSize":9.5,"titleFontWeight":"normal","titleColor":"#222","titlePadding":0}},
"y":{"field":"n","type":"quantitative",
"scale":{"domain":[-7100,149100],"nice":false,"zero":false},
"axis":{"title":"Aantal bezoekers","values":[0,20000,40000,60000,80000,100000,120000,140000],"format":"d","labelFontSize":6,"labelColor":"#333","tickColor":"#333","tickSize":3.5,"labelPadding":2,"domain":false,"grid":false,"titleFontSize":9.5,"titleFontWeight":"normal","titleColor":"#222","titlePadding":8}},
"color":{"field":"loc","type":"nominal","sort":null,
"scale":{"domain":["Centrum Renesse","De Manteling van Walcheren","Strand Domburg","Centrum Goes","Strand de Banjaard","Yerseke","Strand Cadzand-Bad","Centrum Sluis","Haven Tholen","Dennenbos Westenschouwen","Waterdunen"],
"range":["#353558","#a0883a","#b3b35a","#c4e3e3","#2f7f35","#5ea797","#8c3b3b","#a35db5","#dca2c4","#ece23a","#6e6e6e"]},
"legend":{"title":null,"orient":"none","legendX":706,"legendY":5,"symbolType":"M-2,0H2","symbolSize":100,"symbolStrokeWidth":2,"labelFontSize":9.5,"labelColor":"#222","labelOffset":12,"rowPadding":2.4,"padding":5,"strokeColor":"#ddd","fillColor":"#fff","cornerRadius":3,"labelLimit":300}}
}
}
